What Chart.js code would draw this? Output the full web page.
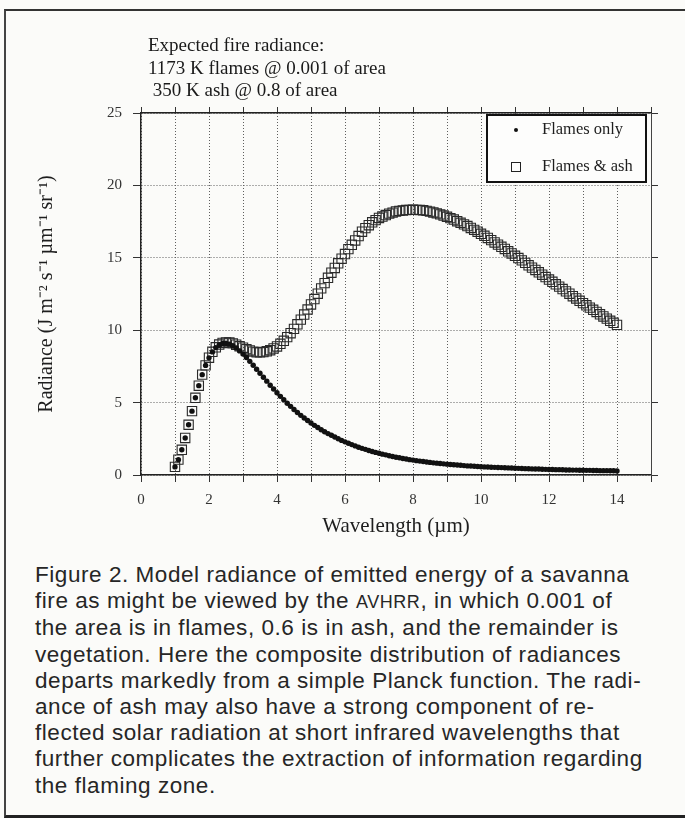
<!DOCTYPE html>
<html>
<head>
<meta charset="utf-8">
<script src="https://cdn.jsdelivr.net/npm/chart.js@4.4.1/dist/chart.umd.min.js"></script>
<style>
  html, body { margin: 0; padding: 0; background: #fbfbf9; }
  #page { position: relative; width: 685px; height: 818px; overflow: hidden; }
  #frame { position: absolute; left: 4px; top: 9px; width: 700px; height: 804px;
           border-top: 2px solid #333; border-left: 2px solid #444; border-bottom: 3px solid #222; }
  #chartBox { position: absolute; left: 0; top: 0; width: 685px; height: 545px; }
  #note { position: absolute; left: 148px; top: 34px; font: 19px "Liberation Serif", serif;
          line-height: 22.5px; color: #1a1a1a; white-space: nowrap; }
  #caption { position: absolute; left: 35px; top: 562px; font: 22.5px "Liberation Sans", sans-serif;
             letter-spacing: 0.55px; line-height: 26.2px; color: #262626; white-space: nowrap; }
  .sc { font-size: 0.8em; }
</style>
</head>
<body>
<div id="page">
  <div id="frame"></div>
  <div id="chartBox"><canvas id="radiance-chart"></canvas></div>
  <div id="note">
    Expected fire radiance:<br>
    1173 K flames @ 0.001 of area<br>
    &nbsp;350 K ash @ 0.8 of area
  </div>
  <div id="caption">
    Figure 2. Model radiance of emitted energy of a savanna<br>
    fire as might be viewed by the <span class="sc">AVHRR</span>, in which 0.001 of<br>
    the area is in flames, 0.6 is in ash, and the remainder is<br>
    vegetation. Here the composite distribution of radiances<br>
    departs markedly from a simple Planck function. The radi-<br>
    ance of ash may also have a strong component of re-<br>
    flected solar radiation at short infrared wavelengths that<br>
    further complicates the extraction of information regarding<br>
    the flaming zone.
  </div>
</div>
<script>
// wavelength in micrometres
const wavelength = [
  1.0, 1.1, 1.2, 1.3, 1.4, 1.5, 1.6, 1.7, 1.8, 1.9,
  2.0, 2.1, 2.2, 2.3, 2.4, 2.5, 2.6, 2.7, 2.8, 2.9,
  3.0, 3.1, 3.2, 3.3, 3.4, 3.5, 3.6, 3.7, 3.8, 3.9,
  4.0, 4.1, 4.2, 4.3, 4.4, 4.5, 4.6, 4.7, 4.8, 4.9,
  5.0, 5.1, 5.2, 5.3, 5.4, 5.5, 5.6, 5.7, 5.8, 5.9,
  6.0, 6.1, 6.2, 6.3, 6.4, 6.5, 6.6, 6.7, 6.8, 6.9,
  7.0, 7.1, 7.2, 7.3, 7.4, 7.5, 7.6, 7.7, 7.8, 7.9,
  8.0, 8.1, 8.2, 8.3, 8.4, 8.5, 8.6, 8.7, 8.8, 8.9,
  9.0, 9.1, 9.2, 9.3, 9.4, 9.5, 9.6, 9.7, 9.8, 9.9,
  10.0, 10.1, 10.2, 10.3, 10.4, 10.5, 10.6, 10.7, 10.8, 10.9,
  11.0, 11.1, 11.2, 11.3, 11.4, 11.5, 11.6, 11.7, 11.8, 11.9,
  12.0, 12.1, 12.2, 12.3, 12.4, 12.5, 12.6, 12.7, 12.8, 12.9,
  13.0, 13.1, 13.2, 13.3, 13.4, 13.5, 13.6, 13.7, 13.8, 13.9,
  14.0
];

const flamesOnly = [
  0.56, 1.06, 1.74, 2.56, 3.47, 4.41, 5.33, 6.17, 6.93, 7.57,
  8.09, 8.50, 8.80, 8.98, 9.08, 9.09, 9.04, 8.93, 8.77, 8.57,
  8.35, 8.11, 7.85, 7.58, 7.30, 7.03, 6.75, 6.48, 6.20, 5.94,
  5.68, 5.43, 5.20, 4.96, 4.74, 4.52, 4.32, 4.12, 3.94, 3.76,
  3.59, 3.43, 3.28, 3.13, 2.99, 2.86, 2.74, 2.62, 2.50, 2.39,
  2.29, 2.19, 2.10, 2.01, 1.92, 1.84, 1.77, 1.69, 1.62, 1.56,
  1.50, 1.44, 1.39, 1.33, 1.28, 1.23, 1.19, 1.14, 1.10, 1.06,
  1.03, 0.99, 0.96, 0.93, 0.90, 0.87, 0.84, 0.82, 0.79, 0.77,
  0.75, 0.73, 0.71, 0.69, 0.67, 0.65, 0.63, 0.62, 0.60, 0.59,
  0.57, 0.56, 0.55, 0.54, 0.53, 0.52, 0.51, 0.50, 0.49, 0.48,
  0.47, 0.46, 0.45, 0.44, 0.43, 0.42, 0.41, 0.41, 0.40, 0.39,
  0.38, 0.38, 0.37, 0.37, 0.36, 0.35, 0.35, 0.34, 0.34, 0.33,
  0.33, 0.32, 0.32, 0.31, 0.31, 0.30, 0.30, 0.30, 0.29, 0.29,
  0.28
];

const flamesAndAsh = [
  0.56, 1.06, 1.74, 2.56, 3.47, 4.41, 5.33, 6.17, 6.93, 7.57,
  8.10, 8.51, 8.82, 9.01, 9.12, 9.16, 9.15, 9.09, 9.00, 8.89,
  8.79, 8.69, 8.60, 8.52, 8.47, 8.47, 8.49, 8.54, 8.62, 8.74,
  8.88, 9.06, 9.27, 9.52, 9.79, 10.09, 10.41, 10.73, 11.08, 11.43,
  11.78, 12.15, 12.52, 12.89, 13.25, 13.62, 13.97, 14.30, 14.62, 14.94,
  15.26, 15.60, 15.90, 16.20, 16.50, 16.80, 17.05, 17.25, 17.45, 17.60,
  17.75, 17.85, 17.95, 18.05, 18.12, 18.20, 18.24, 18.27, 18.30, 18.31,
  18.32, 18.31, 18.30, 18.28, 18.24, 18.19, 18.13, 18.07, 18.00, 17.92,
  17.83, 17.74, 17.64, 17.53, 17.42, 17.31, 17.19, 17.06, 16.93, 16.80,
  16.66, 16.52, 16.37, 16.22, 16.06, 15.91, 15.76, 15.61, 15.45, 15.30,
  15.14, 14.98, 14.82, 14.65, 14.48, 14.32, 14.16, 14.00, 13.83, 13.67,
  13.50, 13.34, 13.17, 13.01, 12.84, 12.68, 12.52, 12.35, 12.19, 12.03,
  11.87, 11.72, 11.56, 11.41, 11.26, 11.10, 10.95, 10.80, 10.65, 10.51,
  10.37
];

const xTickLabels = [0, 2, 4, 6, 8, 10, 12, 14];
const yTickLabels = [0, 5, 10, 15, 20, 25];

const serif = '"Liberation Serif", "Times New Roman", serif';
const ink = "#1e1e1e";

// boxed legend sitting in the top right corner of the plot
const legendBox = {
  id: "legendBox",
  afterDatasetsDraw(chart) {
    const { ctx, chartArea } = chart;
    const w = 159, h = 67;
    const x = chartArea.right - w - 5;
    const y = chartArea.top + 2;
    ctx.save();
    ctx.fillStyle = "#fdfdfc";
    ctx.fillRect(x, y, w, h);
    ctx.lineWidth = 2;
    ctx.strokeStyle = "#111";
    ctx.strokeRect(x, y, w, h);
    ctx.font = "16.5px " + serif;
    ctx.textBaseline = "middle";
    chart.data.datasets.forEach((ds, i) => {
      const cy = y + 15 + i * 37;
      const mx = x + 29;
      if (ds.pointStyle === "rect") {
        ctx.lineWidth = 1;
        ctx.strokeStyle = "#222";
        ctx.strokeRect(mx - 4.5, cy - 4.5, 9, 9);
      } else {
        ctx.fillStyle = "#111";
        ctx.beginPath();
        ctx.arc(mx, cy, 2, 0, Math.PI * 2);
        ctx.fill();
      }
      ctx.fillStyle = ink;
      ctx.fillText(ds.label, x + 55, cy);
    });
    ctx.restore();
  },
};

const canvasElement = document.getElementById("radiance-chart");
const config = {
  type: "scatter",
  data: {
    datasets: [
      {
        label: "Flames only",
        data: wavelength.map((w, i) => ({ x: w, y: flamesOnly[i] })),
        pointStyle: "circle",
        pointRadius: 2.7,
        backgroundColor: "#111",
        borderColor: "#111",
        borderWidth: 0,
      },
      {
        label: "Flames & ash",
        data: wavelength.map((w, i) => ({ x: w, y: flamesAndAsh[i] })),
        pointStyle: "rect",
        pointRadius: 6.6,
        backgroundColor: "rgba(255,255,255,0)",
        borderColor: "#2a2a2a",
        borderWidth: 1.1,
      },
    ],
  },
  options: {
    responsive: true,
    maintainAspectRatio: false,
    animation: false,
    layout: { padding: { left: 30, right: 26, top: 105, bottom: 0 } },
    plugins: {
      legend: { display: false },
      tooltip: { enabled: false },
    },
    scales: {
      x: {
        type: "linear",
        position: "bottom",
        min: 0,
        max: 15,
        afterFit: (s) => { s.height = 70; },
        ticks: {
          stepSize: 1,
          autoSkip: false,
          maxRotation: 0,
          padding: 9,
          color: "#333",
          font: { family: serif, size: 15 },
          callback: (v) => (xTickLabels.includes(v) ? v : ""),
        },
        grid: {
          color: "#5e5e5e",
          lineWidth: 1,
          tickLength: 7,
          tickColor: "#333",
          tickBorderDash: [],
        },
        border: { display: true, color: "#222", width: 1.5, dash: [1, 2] },
        title: {
          display: true,
          text: "Wavelength (µm)",
          color: ink,
          font: { family: serif, size: 21 },
          padding: { top: 0, bottom: 6 },
        },
      },
      xTop: {
        type: "linear",
        position: "top",
        min: 0,
        max: 15,
        afterFit: (s) => { s.height = 8; },
        ticks: { display: false, stepSize: 1, autoSkip: false },
        grid: { drawOnChartArea: false, tickLength: 6, color: "#333" },
        border: { display: true, color: "#222", width: 1.5 },
      },
      y: {
        min: 0,
        max: 25,
        afterFit: (s) => { s.width = 111; },
        ticks: {
          stepSize: 5,
          padding: 11,
          color: "#333",
          font: { family: serif, size: 15 },
          callback: (v) => (yTickLabels.includes(v) ? v : ""),
        },
        grid: {
          color: "#5e5e5e",
          lineWidth: 1,
          tickLength: 8,
          tickColor: "#333",
          tickBorderDash: [],
        },
        border: { display: true, color: "#222", width: 1.5, dash: [1, 2] },
        title: {
          display: true,
          text: "Radiance (J m⁻² s⁻¹ µm⁻¹ sr⁻¹)",
          color: ink,
          font: { family: serif, size: 20 },
          padding: { top: 5, bottom: 0 },
        },
      },
      yRight: {
        position: "right",
        min: 0,
        max: 25,
        afterFit: (s) => { s.width = 8; },
        ticks: { display: false, stepSize: 5 },
        grid: { drawOnChartArea: false, tickLength: 7, color: "#333" },
        border: { display: true, color: "#444", width: 1 },
      },
    },
  },
  plugins: [legendBox],
};

const radianceChart = new Chart(canvasElement, config);
</script>
</body>
</html>
